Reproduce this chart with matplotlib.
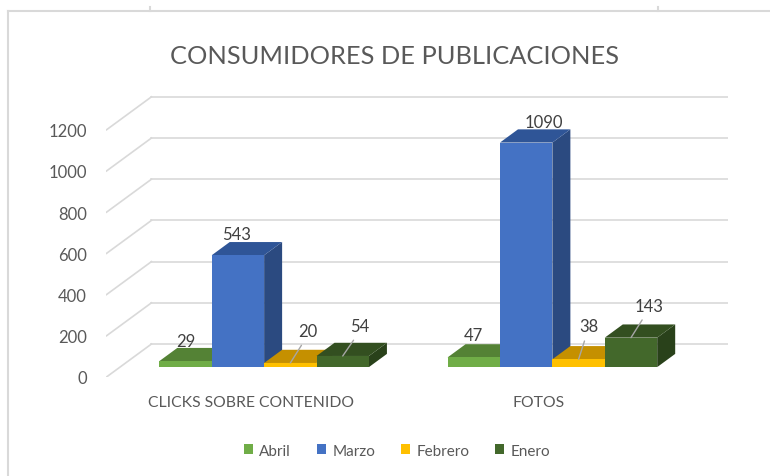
import matplotlib
matplotlib.use("Agg")
import matplotlib.pyplot as plt
from matplotlib.patches import Polygon, Patch
from matplotlib.lines import Line2D

plt.rcParams['font.family'] = ['Lato', 'DejaVu Sans']

# --- data ---
categories = ["CLICKS SOBRE CONTENIDO", "FOTOS"]
series_names = ["Abril", "Marzo", "Febrero", "Enero"]
abril = [29, 47]
marzo = [543, 1090]
febrero = [20, 38]
enero = [54, 143]
y_ticks = [0, 200, 400, 600, 800, 1000, 1200]
title = "CONSUMIDORES DE PUBLICACIONES"

# --- style ---
# (front, top, side) colour for each series
colors = [("#70AD47", "#548235", "#4C7630"),
          ("#4472C4", "#2F5597", "#2B4A80"),
          ("#FFC000", "#C59000", "#B08200"),
          ("#43682B", "#334F20", "#29411A")]
# label offsets in pixels from the front-top centre of each bar, and leader flag
label_offsets = [[(0, 20), (0, 22)],
                 [(-1, 21), (18, 21)],
                 [(17, 32), (10, 33)],
                 [(17, 30), (18, 32)]]
leaders = [[False, False], [False, False], [True, True], [True, True]]

W, H = 770, 477
PX_X = 288.4          # pixels per category unit
PX_Y = 0.206          # pixels per value unit
DX = 45 / PX_X        # depth offset of the whole floor in data units
DY = 33 / PX_Y
BAR_W = 0.1818
F0, F1 = 0.3, 0.7     # bars sit between these depth fractions
GRID = "#D9D9D9"
TXT = "#595959"

fig = plt.figure(figsize=(W / 100, H / 100), dpi=100)
ax = fig.add_axes([106.5 / W, (H - 378) / H, 621.5 / W, 288 / H])
ax.set_xlim(-0.5, 1.5 + DX)
ax.set_ylim(0, 288 / PX_Y)
ax.patch.set_visible(False)
for s in ax.spines.values():
    s.set_visible(False)

# walls: diagonal lines on the side wall, horizontal on the back wall
for v in y_ticks:
    ax.plot([-0.5, -0.5 + DX], [v, v + DY], color=GRID, lw=1.2, zorder=0)
    ax.plot([-0.5 + DX, 1.5 + DX], [v + DY, v + DY], color=GRID, lw=1.2, zorder=0)

values = [abril, marzo, febrero, enero]
n = len(values)
for c in range(len(categories)):
    left0 = c - n * BAR_W / 2
    for i, vals in enumerate(values):
        v = vals[c]
        front, top, side = colors[i]
        x0 = left0 + i * BAR_W + F0 * DX
        x1 = x0 + BAR_W
        y0 = F0 * DY
        d = (F1 - F0)
        z = 2 + i
        ax.bar(x0, v, width=BAR_W, bottom=y0, align="edge", color=front,
               linewidth=0, zorder=z + 0.2)
        ax.add_patch(Polygon([(x0, y0 + v), (x1, y0 + v),
                              (x1 + d * DX, y0 + v + d * DY), (x0 + d * DX, y0 + v + d * DY)],
                             closed=True, facecolor=top, lw=0, zorder=z + 0.1))
        ax.add_patch(Polygon([(x1, y0), (x1 + d * DX, y0 + d * DY),
                              (x1 + d * DX, y0 + v + d * DY), (x1, y0 + v)],
                             closed=True, facecolor=side, lw=0, zorder=z))
        ox, oy = label_offsets[i][c]
        xy = ((x0 + x1) / 2, y0 + v)
        if leaders[i][c]:
            ax.annotate(str(v), xy=xy, xytext=(ox, oy), textcoords="offset pixels",
                        ha="center", va="center", fontsize=12, color="#404040",
                        zorder=20,
                        arrowprops=dict(arrowstyle="-", color="#A6A6A6", lw=1,
                                        relpos=(0.4, 0.0), shrinkA=3, shrinkB=0))
        else:
            ax.annotate(str(v), xy=xy, xytext=(ox, oy), textcoords="offset pixels",
                        ha="center", va="center", fontsize=12, color="#404040",
                        zorder=20)

ax.set_yticks(y_ticks)
ax.set_yticklabels([str(t) for t in y_ticks])
ax.set_xticks(range(len(categories)))
ax.set_xticklabels(categories)
ax.tick_params(axis="y", length=0, pad=14, labelsize=12, labelcolor=TXT)
ax.tick_params(axis="x", length=0, pad=13, labelsize=11.3, labelcolor=TXT)

fig.text(394.5 / W, 1 - 56.7 / H, title, ha="center", va="center",
         fontsize=18.3, color=TXT)

handles = [Patch(facecolor=colors[i][0], edgecolor="none") for i in range(n)]
fig.legend(handles, series_names, loc="center", bbox_to_anchor=(397 / W, 1 - 451.7 / H),
           ncol=4, frameon=False, fontsize=11, labelcolor=TXT,
           handlelength=0.6, handleheight=0.6, handletextpad=0.4, columnspacing=1.7)

# frame of the surrounding page
fig.add_artist(Line2D([8 / W, 8 / W], [0, 1 - 12 / H], color=GRID, lw=1.5))
fig.add_artist(Line2D([8 / W, 1], [1 - 12 / H, 1 - 12 / H], color=GRID, lw=1.5))
for px in (150, 658):
    fig.add_artist(Line2D([px / W, px / W], [1 - 8 / H, 1 - 12 / H], color=GRID, lw=1.5))

fig.savefig("out.png", dpi=100)
